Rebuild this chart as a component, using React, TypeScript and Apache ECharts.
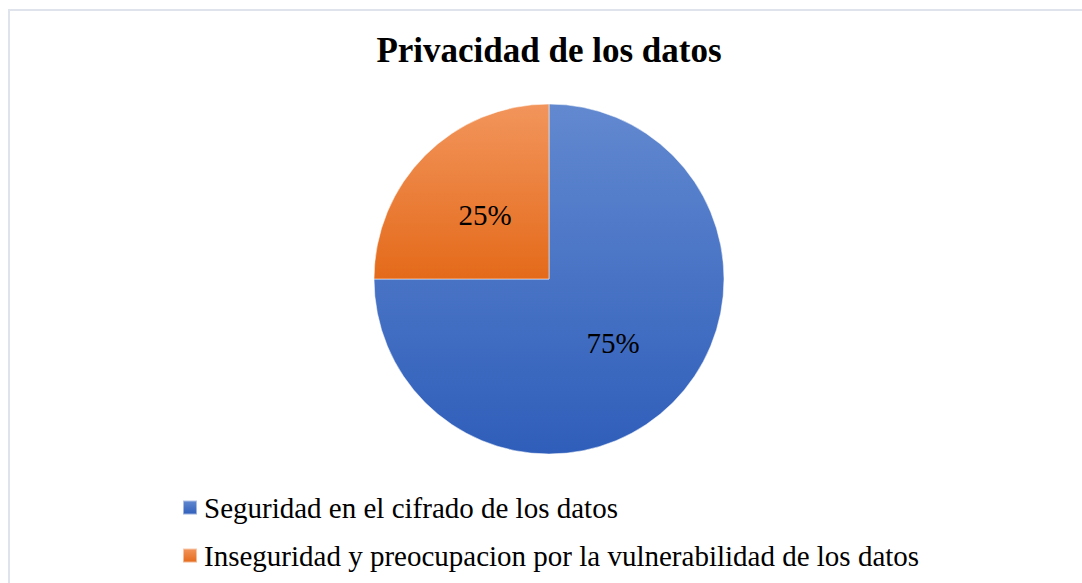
import React, { useEffect, useRef } from "react";
import * as echarts from "echarts";

const titleText = "Privacidad de los datos";
const categories = [
  "Seguridad en el cifrado de los datos",
  "Inseguridad y preocupacion por la vulnerabilidad de los datos",
];
const values = [75, 25];
const gradients = [
  ["#6289d0", "#2f5eba"],
  ["#f2955c", "#e46a1a"],
];

const FONT = "'Liberation Serif', 'Times New Roman', serif";

export default function App() {
  const ref = useRef<HTMLDivElement>(null);
  useEffect(() => {
    if (!ref.current) return;
    const chart = echarts.init(ref.current, undefined, { renderer: "svg" });
    const data = categories.map((name, i) => ({
      name,
      value: values[i],
      itemStyle: {
        color: new echarts.graphic.LinearGradient(0, 0, 0, 1, [
          { offset: 0, color: gradients[i][0] },
          { offset: 1, color: gradients[i][1] },
        ]),
      },
    }));
    chart.setOption({
      animation: false,
      textStyle: { fontFamily: FONT },
      title: {
        text: titleText,
        left: 544,
        top: 28,
        textAlign: "center",
        textStyle: { fontFamily: FONT, fontSize: 35, fontWeight: "bold", color: "#000" },
      },
      legend: {
        orient: "vertical",
        left: 177,
        top: 488,
        itemWidth: 14,
        itemHeight: 14,
        itemGap: 19,
        icon: "rect",
        textStyle: { fontFamily: FONT, fontSize: 29, color: "#000", padding: [0, 0, 0, 2] },
        data: categories,
      },
      series: [
        {
          type: "pie",
          center: [549, 279],
          radius: 175,
          startAngle: 90,
          clockwise: true,
          data,
          itemStyle: { borderColor: "rgba(255,255,255,0.5)", borderWidth: 1 },
          label: {
            show: true,
            position: "inside",
            formatter: "{p|{d}%}",
            fontFamily: FONT,
            fontSize: 29,
            color: "#000",
            rich: {
              p: { fontFamily: FONT, fontSize: 29, color: "#000", fontWeight: "normal" },
            },
          },
          labelLine: { show: false },
          emphasis: { disabled: true },
        },
      ],
    });
    return () => chart.dispose();
  }, []);
  return (
    <>
      <div
        style={{
          position: "fixed",
          left: 8,
          top: 9,
          width: 1100,
          height: 600,
          borderTop: "2px solid #dfe3eb",
          borderLeft: "2px solid #dfe3eb",
          background: "#fff",
        }}
      />
      <div ref={ref} style={{ position: "fixed", left: 0, top: 0, width: 1082, height: 583 }} />
    </>
  );
}
